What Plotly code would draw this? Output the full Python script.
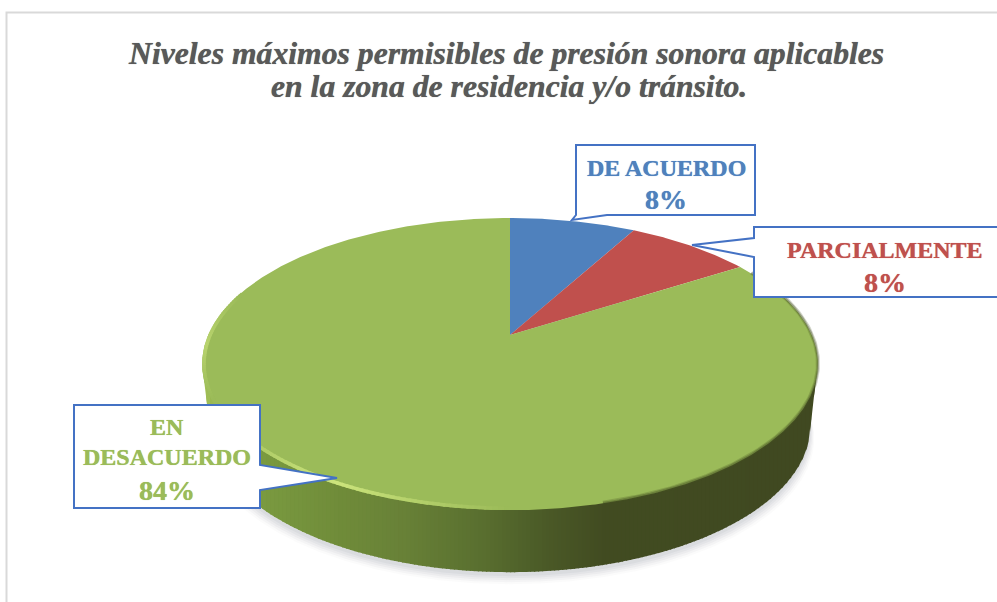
import numpy as np
import plotly.graph_objects as go

categories = ["DE ACUERDO", "PARCIALMENTE", "EN DESACUERDO"]
values = [8, 8, 84]
colors = ["#4f81bd", "#c0504d", "#9bbb59"]
label_colors = ["#4f81bd", "#c0504d", "#9bbb59"]
title_lines = ["Niveles máximos permisibles de presión sonora aplicables",
               "en la zona de residencia y/o tránsito."]

W, H = 997, 602
CX, CY, K, A, B = 510.0, 335.0, 0.199, 140.3, 301.8
DEPTH = 62.0
BOTTOM_SCALE = 0.975


def rim(frac, dy=0.0):
    t = 2 * np.pi * np.asarray(frac)
    u, v = np.sin(t), np.cos(t)
    d = 1 + K * v
    return CX + B * u / d, CY - A * v / d + dy


fig = go.Figure()


def poly(x, y, color, line=None, width=0):
    fig.add_trace(go.Scatter(x=np.asarray(x), y=np.asarray(y), mode="lines", fill="toself",
                             fillcolor=color, line=dict(color=line or color, width=width),
                             hoverinfo="skip", showlegend=False))


f = np.linspace(0, 1, 721)
# soft shadow under the disc
for off, grow, alpha in [(12, 4, 0.03), (10, 3, 0.05), (8, 2, 0.06), (6, 1, 0.07), (4, 0, 0.08)]:
    x, y = rim(f, DEPTH + off)
    poly(CX + (x - CX) * (BOTTOM_SCALE + grow / 308), y, f"rgba(120,125,140,{alpha})")

# side wall: colour runs from left to right
stop_x = [202, 225, 265, 340, 400, 480, 540, 600, 818]
stop_c = np.array([[166, 196, 90], [140, 170, 72], [122, 154, 64], [112, 140, 58], [105, 130, 56],
                   [90, 112, 48], [76, 92, 40], [66, 76, 34], [64, 73, 33]])
fx, fy = rim(f)
i_right, i_left = int(np.argmax(fx)), int(np.argmin(fx))
front_x = fx[i_right:i_left + 1][::-1]
front_y = fy[i_right:i_left + 1][::-1]
bot_x = np.r_[front_x[0], CX + (front_x - CX) * BOTTOM_SCALE, front_x[-1]]
bot_y = np.r_[front_y[0], front_y + DEPTH, front_y[-1]]
edges = np.linspace(front_x[0], front_x[-1], 155)
for a, b in zip(edges[:-1], edges[1:]):
    xs = np.linspace(a, min(b + 1.2, front_x[-1]), 5)
    top = np.interp(xs, front_x, front_y) - 3
    bot = np.interp(xs, bot_x, bot_y)
    c = [int(np.interp((a + b) / 2, stop_x, stop_c[:, i])) for i in range(3)]
    poly(np.r_[xs, xs[::-1]], np.r_[top, bot[::-1]], f"rgb({c[0]},{c[1]},{c[2]})")

# top face slices, from the values
start = 0.0
total = sum(values)
for val, col in zip(values, colors):
    fr = np.linspace(start, start + val / total, max(3, int(val * 7)))
    x, y = rim(fr)
    poly(np.r_[CX, x, CX], np.r_[CY, y, CY], col)
    start += val / total

# bevel on the rim, set just inside the edge
arc = np.linspace(0.50, 0.80, 120)
for a, b in zip(arc[:-1], arc[1:]):
    mid = (a + b) / 2
    strength = max(np.clip(1 - abs(mid - 0.58) / 0.08, 0, 1), 0.6 * np.clip(1 - abs(mid - 0.74) / 0.06, 0, 1))
    c = [int(155 + 50 * strength), int(187 + 42 * strength), int(89 + 36 * strength)]
    x, y = rim(np.linspace(a, b + .001, 4))
    x = CX + (x - CX) * 0.9935
    y = CY + (y - CY) * 0.9886
    fig.add_trace(go.Scatter(x=x, y=y, mode="lines", line=dict(color=f"rgb({c[0]},{c[1]},{c[2]})", width=3.5),
                             hoverinfo="skip", showlegend=False))
# dark blurred edge on the right-hand front
for w, alpha in [(4, .25), (2, .4)]:
    x, y = rim(np.linspace(0.17, 0.46, 120), -0.5)
    fig.add_trace(go.Scatter(x=x, y=y, mode="lines", line=dict(color=f"rgba(70,82,35,{alpha})", width=w),
                             hoverinfo="skip", showlegend=False))

# chart frame and callouts
shapes = [dict(type="path", path="M 6.5 602 L 6.5 12.5 L 997 12.5", line=dict(color="#d9d9d9", width=2)),
          dict(type="path", path="M 576 145 L 755 145 L 755 215 L 607 215 L 572 220 L 576 215 Z",
               fillcolor="white", line=dict(color="#4472c4", width=2)),
          dict(type="path", path="M 754 227 L 1000 227 L 1000 297 L 754 297 L 754 257 L 692 245 L 754 238 Z",
               fillcolor="white", line=dict(color="#4472c4", width=2)),
          dict(type="path", path="M 74 405 L 260 405 L 260 465 L 337 478 L 260 490 L 260 508 L 74 508 Z",
               fillcolor="white", line=dict(color="#4472c4", width=2))]

SERIF = "Liberation Serif"
ann = [
    (506, 53, f"<b><i>{title_lines[0]}</i></b>", 31.7, "#595959"),
    (509, 86, f"<b><i>{title_lines[1]}</i></b>", 31.7, "#595959"),
    (666, 168, f"<b>{categories[0]}</b>", 24, label_colors[0]),
    (666, 199, f"<b>{values[0]}%</b>", 28, label_colors[0]),
    (885, 250, f"<b>{categories[1]}</b>", 24, label_colors[1]),
    (885, 282, f"<b>{values[1]}%</b>", 28, label_colors[1]),
    (167, 427, "<b>EN</b>", 24, label_colors[2]),
    (167, 457, "<b>DESACUERDO</b>", 24, label_colors[2]),
    (167, 490, f"<b>{values[2]}%</b>", 28, label_colors[2]),
]
annotations = [dict(x=x, y=y, text=t, showarrow=False, xref="x", yref="y",
                    font=dict(family=SERIF, size=s, color=c, shadow=f"0 0 0.7px {c}"))
               for x, y, t, s, c in ann]

fig.update_layout(width=W, height=H, margin=dict(l=0, r=0, t=0, b=0), paper_bgcolor="white",
                  plot_bgcolor="white", showlegend=False, shapes=shapes, annotations=annotations,
                  xaxis=dict(range=[0, W], visible=False, fixedrange=True),
                  yaxis=dict(range=[H, 0], visible=False, fixedrange=True))
fig.write_html("out.html", config=dict(displayModeBar=False),
               post_script="document.body.style.margin='0';document.body.style.overflow='hidden';")
